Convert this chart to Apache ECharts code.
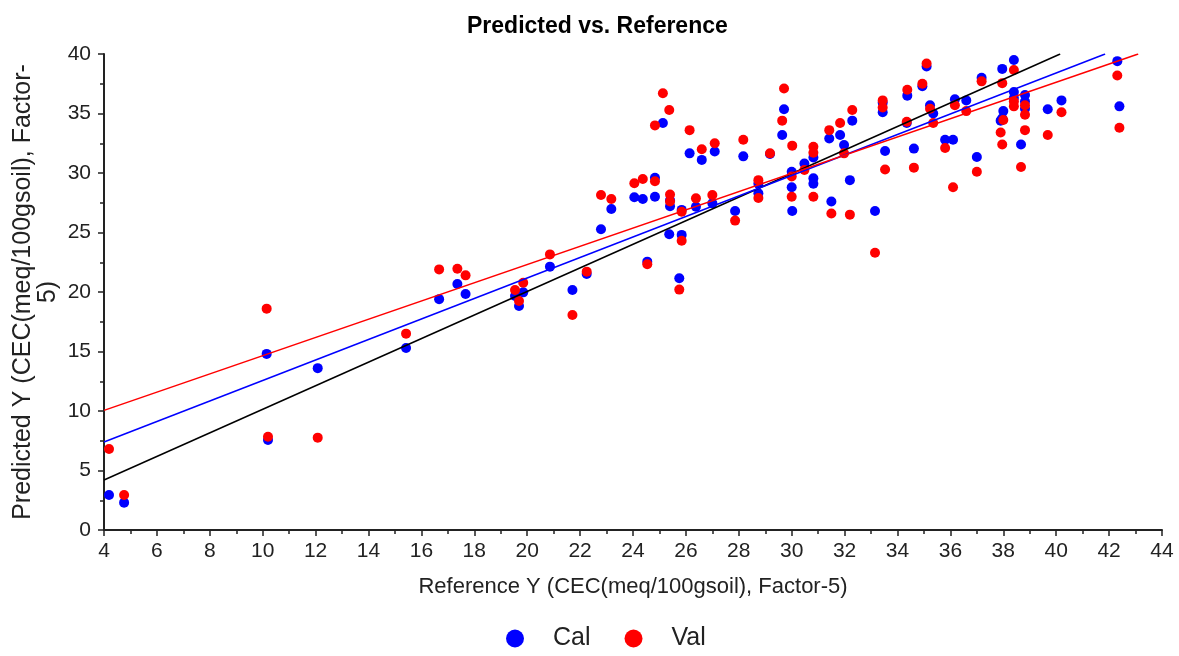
<!DOCTYPE html>
<html>
<head>
<meta charset="utf-8">
<script src="https://cdn.jsdelivr.net/npm/echarts@6/dist/echarts.min.js"></script>
<style>
html,body{margin:0;padding:0;background:#fff;}
#chart{width:1179px;height:656px;}
</style>
</head>
<body>
<div id="chart"></div>
<script>
// Reference values (x) with predicted values for calibration and validation
var refY = [4.19,4.76,10.15,10.2,12.08,15.42,16.67,17.36,17.67,19.54,19.69,19.85,20.86,21.71,22.25,22.79,23.18,24.05,24.37,24.54,
  24.83,24.83,25.13,25.4,25.4,25.37,25.84,25.84,25.75,26.14,26.38,26.6,27.0,27.09,27.86,28.17,28.74,28.74,29.18,29.71,
  29.64,30.0,30.0,30.02,30.48,30.82,30.82,30.82,31.42,31.5,31.83,31.98,32.29,32.2,33.15,33.44,33.44,33.53,34.37,34.35,
  34.62,34.94,35.1,35.23,35.35,35.8,36.1,36.17,36.6,37.0,37.18,37.96,37.9,38.0,37.96,38.4,38.4,38.4,38.82,38.82,
  38.82,38.67,39.68,40.2,42.31,42.39];
var calPred = [2.94,2.3,14.8,7.56,13.6,15.3,19.4,20.67,19.83,19.66,18.82,19.97,22.13,20.17,21.51,25.27,26.97,27.96,27.82,22.55,
  28.0,29.6,34.2,27.7,27.2,24.85,26.9,24.8,21.15,31.65,27.17,31.1,27.45,31.8,26.8,31.4,29.1,28.3,31.6,35.35,
  33.2,30.1,28.8,26.8,30.8,29.55,29.1,31.3,32.9,27.6,33.2,32.35,34.4,29.4,26.8,35.9,35.1,31.85,36.5,34.2,
  32.05,37.3,38.95,35.7,35.0,32.8,32.8,36.2,36.1,31.35,38.0,38.75,34.4,35.2,34.6,39.5,36.8,36.3,36.55,36.0,
  35.4,32.4,35.35,36.1,39.4,35.6];
var valPred = [6.8,2.94,18.6,7.84,7.76,16.5,21.9,21.96,21.4,20.17,19.24,20.78,23.16,18.07,21.71,28.15,27.82,29.14,29.5,22.33,
  29.3,34.0,36.7,28.2,27.6,35.3,26.75,24.3,20.2,33.6,27.87,32.0,28.15,32.5,26.0,32.8,29.4,27.9,31.65,37.1,
  34.4,29.7,28.0,32.3,30.25,32.2,28.0,31.7,33.6,26.6,34.2,31.65,35.3,26.5,23.3,36.1,35.5,30.3,37.0,34.3,
  30.45,37.5,39.2,35.4,34.2,32.1,28.8,35.7,35.2,30.1,37.7,37.55,33.4,34.45,32.4,38.65,36.0,35.6,35.7,34.9,
  33.6,30.5,33.2,35.1,38.2,33.8];

// Fitted lines: [x, y] end points
var targetLine = [[4, 4.2], [40.15, 40]];
var calLine = [[4, 7.4], [41.85, 40]];
var valLine = [[4, 10.05], [43.1, 40]];

var xTicks = {min: 4, max: 44, step: 2};
var yTicks = {min: 0, max: 40, step: 5};

var calPts = refY.map(function (x, i) { return [x, calPred[i]]; });
var valPts = refY.map(function (x, i) { return [x, valPred[i]]; });

var FONT = "'Liberation Sans',Arial,sans-serif";
var chart = echarts.init(document.getElementById('chart'), null, {renderer: 'canvas'});
var axisCommon = {
  axisLine: {show: true, onZero: false, lineStyle: {color: '#222', width: 2}},
  axisTick: {show: true, inside: false, length: 6, lineStyle: {color: '#222', width: 1.5}},
  minorTick: {show: true, splitNumber: 2, length: 4, lineStyle: {color: '#222', width: 1.5}},
  splitLine: {show: false},
  axisLabel: {color: '#222', fontSize: 21, fontFamily: FONT},
  nameTextStyle: {color: '#222', fontSize: 22, fontFamily: FONT}
};
chart.setOption({
  animation: false,
  backgroundColor: '#fff',
  title: {
    text: 'Predicted vs. Reference',
    left: 462, top: 10,
    textStyle: {fontSize: 23, fontWeight: 'bold', color: '#000', fontFamily: FONT}
  },
  grid: {left: 104, right: 17, top: 54, bottom: 126, containLabel: false, outerBoundsMode: 'none'},
  legend: {
    data: ['Cal', 'Val'],
    bottom: 0, left: 501,
    icon: 'circle',
    itemWidth: 66, itemHeight: 18, itemGap: 34,
    textStyle: {fontSize: 25, color: '#222', fontFamily: FONT}
  },
  xAxis: Object.assign({}, axisCommon, {
    type: 'value', min: xTicks.min, max: xTicks.max, interval: xTicks.step,
    name: 'Reference Y (CEC(meq/100gsoil), Factor-5)',
    nameLocation: 'middle', nameGap: 46, nameMoveOverlap: false,
    axisLabel: Object.assign({}, axisCommon.axisLabel, {margin: 11})
  }),
  yAxis: Object.assign({}, axisCommon, {
    type: 'value', min: yTicks.min, max: yTicks.max, interval: yTicks.step,
    name: 'Predicted Y (CEC(meq/100gsoil), Factor-\n5)',
    nameLocation: 'middle', nameGap: 43, nameRotate: 90, nameMoveOverlap: false,
    nameTextStyle: Object.assign({}, axisCommon.nameTextStyle, {fontSize: 25, lineHeight: 25}),
    axisLabel: Object.assign({}, axisCommon.axisLabel, {margin: 13})
  }),
  series: [
    {name: 'Cal', type: 'scatter', data: calPts, symbol: 'circle', symbolSize: 10,
      itemStyle: {color: '#0000ff', opacity: 1}, z: 2},
    {name: 'Val', type: 'scatter', data: valPts, symbol: 'circle', symbolSize: 10,
      itemStyle: {color: '#ff0000', opacity: 1}, z: 3},
    {name: 'Target', type: 'line', data: targetLine, symbol: 'none', silent: true,
      lineStyle: {color: '#000', width: 1.5}, z: 4},
    {name: 'CalFit', type: 'line', data: calLine, symbol: 'none', silent: true,
      lineStyle: {color: '#0000ff', width: 1.5}, z: 4},
    {name: 'ValFit', type: 'line', data: valLine, symbol: 'none', silent: true,
      lineStyle: {color: '#ff0000', width: 1.5}, z: 4}
  ]
});
</script>
</body>
</html>
